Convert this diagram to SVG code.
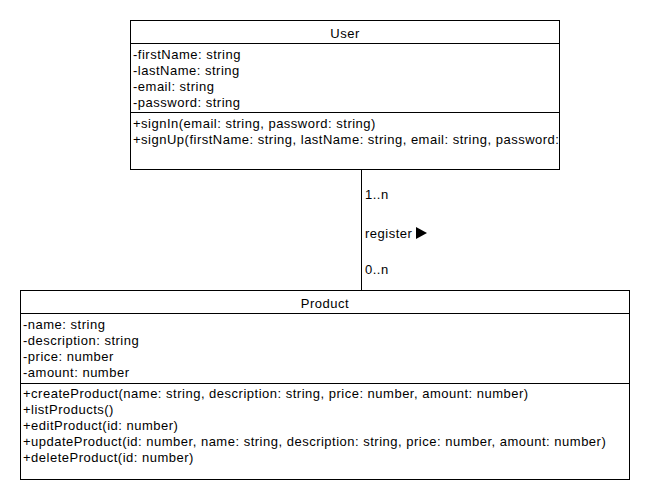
<svg xmlns="http://www.w3.org/2000/svg" width="650" height="500" viewBox="0 0 650 500">
<style>
rect.box{fill:#fff;stroke:#000;stroke-width:1}
line.sep{stroke:#000;stroke-width:1}
text{font-family:"Liberation Sans",Arial,sans-serif;font-size:13px;letter-spacing:0.5px;fill:#000}
.c{text-anchor:middle}
</style>
<rect width="650" height="500" fill="#fff"/>
<g id="connectors">
<line x1="361.5" y1="169.5" x2="361.5" y2="290.5" stroke="#000" stroke-width="1"/>
<text x="365" y="199">1..n</text>
<text x="365" y="238">register</text>
<polygon points="416,227 427,233 416,239" fill="#000"/>
<text x="365" y="274">0..n</text>
</g>
<g id="User">
<rect class="box" x="130.5" y="20.5" width="429" height="149"/>
<line class="sep" x1="130.5" y1="43.5" x2="559.5" y2="43.5"/>
<line class="sep" x1="130.5" y1="112.5" x2="559.5" y2="112.5"/>
<text class="c" x="345" y="38">User</text>
<text x="133" y="59">-firstName: string</text>
<text x="133" y="75">-lastName: string</text>
<text x="133" y="91">-email: string</text>
<text x="133" y="107">-password: string</text>
<text x="133" y="128">+signIn(email: string, password: string)</text>
<text x="133" y="144">+signUp(firstName: string, lastName: string, email: string, password:</text>
</g>
<g id="Product">
<rect class="box" x="20.5" y="290.5" width="609" height="189"/>
<line class="sep" x1="20.5" y1="313.5" x2="629.5" y2="313.5"/>
<line class="sep" x1="20.5" y1="383.5" x2="629.5" y2="383.5"/>
<text class="c" x="325" y="308">Product</text>
<text x="23" y="329">-name: string</text>
<text x="23" y="345">-description: string</text>
<text x="23" y="361">-price: number</text>
<text x="23" y="377">-amount: number</text>
<text x="23" y="398">+createProduct(name: string, description: string, price: number, amount: number)</text>
<text x="23" y="414">+listProducts()</text>
<text x="23" y="430">+editProduct(id: number)</text>
<text x="23" y="446">+updateProduct(id: number, name: string, description: string, price: number, amount: number)</text>
<text x="23" y="462">+deleteProduct(id: number)</text>
</g>
</svg>
